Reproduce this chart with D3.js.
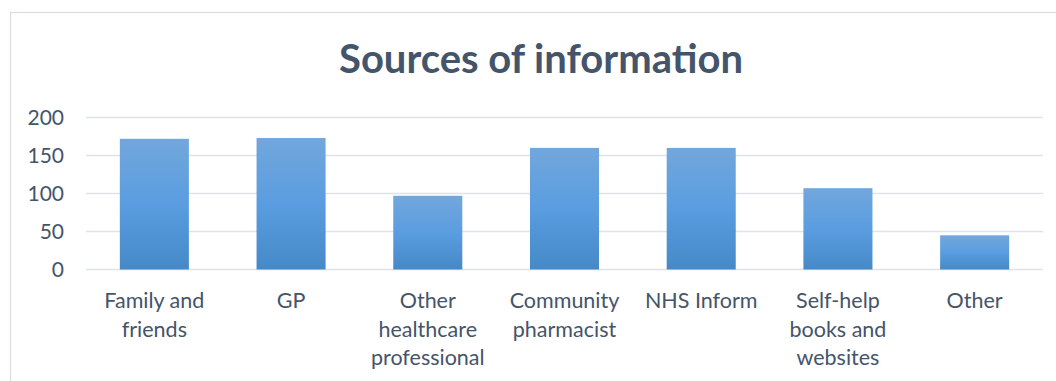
<!DOCTYPE html>
<html>
<head>
<meta charset="utf-8">
<script src="https://cdn.jsdelivr.net/npm/d3@7"></script>
<style>
  body { margin: 0; background: #fff; }
  svg text { font-family: Lato, "Open Sans", sans-serif; fill: #44546a; }
</style>
</head>
<body>
<div id="chart"></div>
<script>
const categories = ["Family and friends", "GP", "Other healthcare professional", "Community pharmacist", "NHS Inform", "Self-help books and websites", "Other"];
const values = [172, 173, 97, 160, 160, 107, 45];
const yTicks = [0, 50, 100, 150, 200];
const title = "Sources of information";

const W = 1056, H = 381;
const margin = {left: 86, right: 13, top: 117.5, bottom: 111.5};

const svg = d3.select("#chart").append("svg")
  .attr("width", W).attr("height", H);

// gradient like the office bar fill
const grad = svg.append("defs").append("linearGradient")
  .attr("id", "barFill").attr("x1", 0).attr("y1", 0).attr("x2", 0).attr("y2", 1);
grad.append("stop").attr("offset", "0%").attr("stop-color", "#72a7dc");
grad.append("stop").attr("offset", "50%").attr("stop-color", "#5a9de0");
grad.append("stop").attr("offset", "100%").attr("stop-color", "#4589c8");

// chart area border
svg.append("rect")
  .attr("x", 10.5).attr("y", 12.5)
  .attr("width", W + 20).attr("height", H + 20)
  .attr("fill", "none").attr("stroke", "#d9dde3").attr("stroke-width", 1.2);

const x = d3.scaleBand()
  .domain(categories)
  .range([margin.left, W - margin.right])
  .paddingInner(0.495).paddingOuter(0.2475);

const y = d3.scaleLinear()
  .domain([0, 200])
  .range([H - margin.bottom, margin.top]);

// gridlines
svg.append("g").selectAll("line")
  .data(yTicks).join("line")
  .attr("x1", margin.left).attr("x2", W - margin.right)
  .attr("y1", d => y(d)).attr("y2", d => y(d))
  .attr("stroke", "#dfe2e7").attr("stroke-width", 1.6);

// y axis labels
const yAxis = svg.append("g")
  .attr("transform", `translate(${margin.left - 22},0)`)
  .call(d3.axisLeft(y).tickValues(yTicks).tickSize(0).tickPadding(0));
yAxis.select(".domain").remove();
yAxis.selectAll("text")
  .attr("font-size", 21).attr("fill", "#44546a")
  .style("font-family", "Lato, 'Open Sans', sans-serif")
  .attr("dy", "0.35em");

// bars
svg.append("g").selectAll("rect")
  .data(values).join("rect")
  .attr("x", (d, i) => x(categories[i]))
  .attr("width", x.bandwidth())
  .attr("y", d => y(d))
  .attr("height", d => y(0) - y(d))
  .attr("fill", "url(#barFill)");

// category labels, wrapped into the band
const labels = svg.append("g").selectAll("text")
  .data(categories).join("text")
  .attr("text-anchor", "middle")
  .attr("font-size", 21.5)
  .attr("x", d => x(d) + x.bandwidth() / 2)
  .attr("y", 308);

labels.each(function(d) {
  const t = d3.select(this);
  const cx = +t.attr("x");
  const words = d.split(" ");
  let lines = [], cur = [];
  const probe = t.append("tspan");
  words.forEach(w => {
    const test = cur.concat([w]).join(" ");
    probe.text(test);
    if (cur.length && probe.node().getComputedTextLength() > 130) {
      lines.push(cur.join(" "));
      cur = [w];
    } else {
      cur.push(w);
    }
  });
  lines.push(cur.join(" "));
  probe.remove();
  lines.forEach((ln, k) => {
    t.append("tspan").attr("x", cx).attr("dy", k ? 28.7 : 0).text(ln);
  });
});

// title
svg.append("text")
  .attr("x", 541).attr("y", 73)
  .attr("text-anchor", "middle")
  .attr("font-size", 40).attr("font-weight", "bold")
  .text(title);
</script>
</body>
</html>
